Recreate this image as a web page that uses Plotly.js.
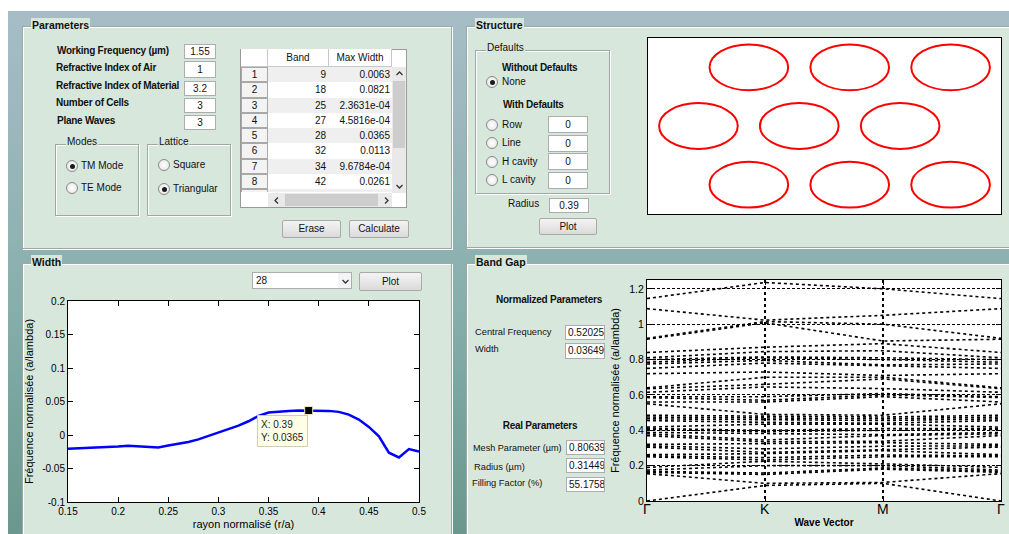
<!DOCTYPE html>
<html><head><meta charset="utf-8">
<script src="https://cdn.plot.ly/plotly-3.0.1.min.js"></script>
<style>
html,body{margin:0;padding:0;}
body{width:1009px;height:534px;overflow:hidden;position:relative;background:#fff;font-family:"Liberation Sans",Arial,sans-serif;}
#desk{position:absolute;left:8px;top:11px;width:1001px;height:523px;
 background:linear-gradient(180deg,#a6bdc5 0px,#9cb7bd 110px,#8fb2b2 230px,#86aeab 300px,#76a29b 420px,#6c978e 523px);}
#gui{position:absolute;left:0;top:0;width:1009px;height:534px;}
.panel{position:absolute;background:#d8e7dc;border:1px solid #9fa8a2;box-shadow:inset 1px 1px 0 #fff,1px 1px 0 #fff;box-sizing:border-box;}
.grp{position:absolute;border:1px solid #9fa8a2;box-shadow:inset 1px 1px 0 #fff,1px 1px 0 #fff;box-sizing:border-box;}
.lbl{position:absolute;white-space:nowrap;color:#111;font-size:10px;line-height:14px;}
.inp{position:absolute;background:#fff;border:1px solid #abadb3;box-sizing:border-box;font-size:10px;text-align:center;overflow:hidden;white-space:nowrap;color:#111;}
.btn{position:absolute;box-sizing:border-box;border:1px solid #a9a9a9;border-radius:2px;background:linear-gradient(#f3f3f3,#e8e8e8 50%,#dadada);font-size:10px;text-align:center;color:#111;}
.radio{position:absolute;width:12px;height:12px;border-radius:50%;box-sizing:border-box;border:1px solid #8a8a8a;background:radial-gradient(#ffffff,#e2e2e2);}
.radio.on::after{content:"";position:absolute;left:2.5px;top:2.5px;width:5px;height:5px;border-radius:50%;background:#1a1a1a;}
.cell{position:absolute;box-sizing:border-box;font-size:10px;line-height:15px;white-space:nowrap;overflow:hidden;color:#111;}
#plot{position:absolute;left:0;top:0;width:1009px;height:534px;z-index:5;pointer-events:none;}
</style></head>
<body>
<div id="desk"></div>
<div id="gui"></div>
<div id="plot"></div>
<script>
// ---------------- chart data ----------------
// Width panel: band 28 gap width vs normalised radius
const widthRadius = [0.15,0.16,0.17,0.18,0.19,0.20,0.21,0.22,0.23,0.24,0.25,0.26,0.27,0.28,0.29,0.30,0.31,0.32,0.33,0.34,0.35,0.36,0.37,0.38,0.39,0.40,0.41,0.42,0.43,0.44,0.45,0.46,0.47,0.48,0.49,0.50];
const widthValues = [-0.0205,-0.0200,-0.0192,-0.0186,-0.0180,-0.0172,-0.0160,-0.0165,-0.0175,-0.0185,-0.0158,-0.0132,-0.0105,-0.0065,-0.0015,0.0045,0.0090,0.0140,0.0205,0.0285,0.0335,0.0352,0.0360,0.0364,0.0365,0.0365,0.0360,0.0345,0.0305,0.0230,0.0120,-0.0020,-0.0265,-0.0335,-0.0210,-0.0245];
const widthXTicks = [0.15,0.2,0.25,0.3,0.35,0.4,0.45,0.5];
const widthXTickText = ["0.15","0.2","0.25","0.3","0.35","0.4","0.45","0.5"];
const widthYTicks = [-0.1,-0.05,0,0.05,0.1,0.15,0.2];
const widthYTickText = ["-0.1","-0.05","0","0.05","0.1","0.15","0.2"];
const tipX = 0.39, tipY = 0.0365;

// Band Gap panel: sorted band frequencies at the high-symmetry points
const kLabels = ["Γ","K","M","Γ"];
const kPositions = [0,1,2,3];
const bandsAtGamma = [0,0.155,0.162,0.168,0.175,0.19,0.25,0.256,0.262,0.305,0.312,0.32,0.37,0.38,0.388,0.405,0.41,0.418,0.455,0.465,0.475,0.485,0.55,0.56,0.585,0.59,0.615,0.635,0.64,0.72,0.75,0.775,0.785,0.8,0.81,0.84,0.915,0.92,1.088,1.145];
const bandsAtK     = [0.088,0.1,0.15,0.158,0.2,0.225,0.232,0.245,0.268,0.275,0.295,0.325,0.335,0.345,0.38,0.392,0.4,0.435,0.445,0.46,0.468,0.48,0.49,0.56,0.57,0.59,0.645,0.66,0.70,0.73,0.78,0.795,0.81,0.815,0.845,0.87,1.008,1.015,1.023,1.236];
const bandsAtM     = [0.1,0.105,0.18,0.187,0.2,0.21,0.25,0.26,0.285,0.29,0.31,0.33,0.338,0.37,0.375,0.4,0.41,0.435,0.44,0.455,0.465,0.475,0.485,0.59,0.6,0.608,0.636,0.69,0.7,0.71,0.765,0.77,0.8,0.81,0.85,0.89,0.905,1.0,1.05,1.2];
const bandYTicks = [0,0.2,0.4,0.6,0.8,1,1.2];
const bandYTickText = ["0","0.2","0.4","0.6","0.8","1","1.2"];

// Structure panel: triangular lattice of holes
const holeX = [1,2,3,0.5,1.5,2.5,1,2,3];
const holeY = [2,2,2,1,1,1,0,0,0];
const holeRadius = 0.39;

// Parameters table
const tableBands = [9,18,25,27,28,32,34,42,46];
const tableMaxWidth = ["0.0063","0.0821","2.3631e-04","4.5816e-04","0.0365","0.0113","9.6784e-04","0.0261","0.0051"];

// ---------------- GUI chrome ----------------
const gui = document.getElementById('gui');
function div(cls,x,y,w,h){const d=document.createElement('div');d.className=cls;Object.assign(d.style,{left:x+'px',top:y+'px',width:w+'px',height:h+'px'});gui.appendChild(d);return d;}
function text(t,x,yc,o){o=o||{};const d=document.createElement('div');d.className='lbl';d.textContent=t;
 d.style.fontSize=(o.size||10)+'px';d.style.top=(yc-7)+'px';if(o.bold){d.style.fontWeight='bold';d.style.letterSpacing=(o.ls!==undefined?o.ls:-0.25)+'px';}
 if(o.center){d.style.left=(x-150)+'px';d.style.width='300px';d.style.textAlign='center';}else d.style.left=x+'px';
 if(o.bg){d.style.background=o.bg;d.style.padding='0 1px';}gui.appendChild(d);return d;}
function input(t,x,y,w,h,left){const d=div('inp',x,y,w,h);d.textContent=t;d.style.lineHeight=(h-2)+'px';if(left){d.style.textAlign='left';d.style.paddingLeft='2px';}return d;}
function button(t,x,y,w,h){const d=div('btn',x,y,w,h);d.textContent=t;d.style.lineHeight=(h-2)+'px';return d;}
function radio(cx,cy,on){const d=div('radio'+(on?' on':''),cx-6,cy-6,12,12);return d;}
function panel(title,x,y,w,h){div('panel',x,y,w,h);text(title,x+9,y-1,{bold:true,size:10.5,ls:0,bg:'#d8e7dc'});}
function group(title,x,y,w,h){div('grp',x,y,w,h);text(title,x+11,y-2,{bg:'#d8e7dc'});}
function chevron(cx,cy,dir,parent){const s='<svg width="9" height="9" style="position:absolute;left:'+(cx-4.5)+'px;top:'+(cy-4.5)+'px"><polyline points="'+
 ({up:'1.5,6 4.5,3 7.5,6',down:'1.5,3 4.5,6 7.5,3',left:'6,1.5 3,4.5 6,7.5',right:'3,1.5 6,4.5 3,7.5'})[dir]+'" fill="none" stroke="#333" stroke-width="1.3"/></svg>';
 (parent||gui).insertAdjacentHTML('beforeend',s);}

// Panels
panel('Parameters',22,26,430,223);
panel('Structure',466,26,560,222);
panel('Width',22,263,430,300);
panel('Band Gap',466,263,560,300);

// Parameters panel
const pLabels=[['Working Frequency (µm)',57,51],['Refractive Index of Air',56,68],['Refractive Index of Material',56,86],['Number of Cells',56,103],['Plane Waves',57,121]];
pLabels.forEach(l=>text(l[0],l[1],l[2],{bold:true,size:10}));
input('1.55',184,44,32,15);input('1',184,61,32,17);input('3.2',184,81,32,15);input('3',184,98,32,15);input('3',184,115,32,15);
group('Modes',55,144,84,72);group('Lattice',147,144,84,72);
radio(72,166,true);text('TM Mode',81,166);radio(72,188,false);text('TE Mode',81,188);
radio(164,165,false);text('Square',173,165);radio(164,189,true);text('Triangular',173,189);
// table
(function(){
 const t=div('cell',240,49,167,159);t.style.background='#fff';t.style.border='1px solid #9a9a9a';
 const hdr=(x,w,s)=>{const c=div('cell',x,49,w,18);c.style.borderRight='1px solid #c8c8c8';c.style.borderBottom='1px solid #c8c8c8';c.style.textAlign='center';c.style.lineHeight='18px';c.textContent=s;c.style.background='#fff';};
 hdr(241,27,'');hdr(268,61,'Band');hdr(329,63,'Max Width');
 const rh=15.25;
 for(let i=0;i<tableBands.length;i++){
  const y=67+i*rh;const bg=(i%2===0)?'#efefef':'#ffffff';
  const rn=div('cell',241,y,27,rh);rn.style.background='#f3f3f3';rn.style.border='1px solid #a8a8a8';rn.style.textAlign='center';rn.style.lineHeight=(rh-2)+'px';rn.textContent=String(i+1);
  const b=div('cell',268,y,61,rh);b.style.background=bg;b.style.textAlign='right';b.style.paddingRight='3px';b.textContent=String(tableBands[i]);
  const m=div('cell',329,y,63,rh);m.style.background=bg;m.style.textAlign='right';m.style.paddingRight='2px';m.textContent=tableMaxWidth[i];
 }
 const hs=div('cell',241,192,165,15);hs.style.background='#fff';
 const hv=div('cell',268,193,124,14);hv.style.background='#e9e9e9';
 const th=div('cell',285,194,93,12);th.style.background='#cdcdcd';
 chevron(276,200,'left');chevron(386,200,'right');
 const vs=div('cell',392,67,14,126);vs.style.background='#e9e9e9';
 const tv=div('cell',393,81,12,67);tv.style.background='#cdcdcd';
 chevron(399,73,'up');chevron(399,186,'down');
})();
button('Erase',282,220,59,18);button('Calculate',349,220,60,18);

// Structure panel
group('Defaults',475,50,135,144);
text('Without Defaults',502,68,{bold:true,size:10});
radio(492,82,true);text('None',502,82);
text('With Defaults',503,105,{bold:true,size:10});
[['Row',125,116],['Line',143,135],['H cavity',162,153],['L cavity',180,172]].forEach(r=>{radio(492,r[1],false);text(r[0],502,r[1]);input('0',548,r[2],40,17);});
text('Radius',508,204);input('0.39',549,198,40,15);
button('Plot',539,218,58,17);

// Width panel
(function(){const d=div('inp',252,272,100,17);d.style.textAlign='left';d.style.paddingLeft='3px';d.style.lineHeight='15px';d.textContent='28';
 const a=div('cell',338,273,13,15);a.style.background='#f4f4f4';chevron(345,281,'down');})();
button('Plot',359,272,63,19);

// Band Gap panel
text('Normalized Parameters',549,300,{bold:true,size:10,center:true});
text('Central Frequency',475,332,{size:9.3});text('Width',475,349,{size:9.3});
input('0.520255',565,325,40,15,true);input('0.036497',565,343,40,16,true);
text('Real Parameters',540,426,{bold:true,size:10,center:true});
text('Mesh Parameter  (µm)',473,448,{size:9.1});text('Radius (µm)',474,467,{size:9.3});text('Filling Factor  (%)',472,483,{size:9.3});
input('0.806395',566,440,39,15,true);input('0.314494',566,458,39,15,true);input('55.1758',566,477,39,15,true);

// ---------------- Plotly figure ----------------
const W=1009,H=534;
const px=x=>x/W, py=y=>1-y/H;
const fontFam='"Liberation Sans", Arial, sans-serif';
const traces=[];
traces.push({x:widthRadius,y:widthValues,mode:'lines',line:{color:'#0000ff',width:2.5},xaxis:'x',yaxis:'y',hoverinfo:'skip'});
traces.push({x:[tipX],y:[tipY],mode:'markers',marker:{symbol:'square',size:8,color:'#000',line:{color:'#f0ecc0',width:1}},xaxis:'x',yaxis:'y',hoverinfo:'skip'});
for(let i=0;i<bandsAtGamma.length;i++){
 traces.push({x:kPositions,y:[bandsAtGamma[i],bandsAtK[i],bandsAtM[i],bandsAtGamma[i]],mode:'lines',
  line:{color:'#000',width:1.6,dash:'dot'},xaxis:'x2',yaxis:'y2',hoverinfo:'skip'});
}
const shapes=holeX.map((cx,i)=>({type:'circle',xref:'x3',yref:'y3',x0:cx-holeRadius,x1:cx+holeRadius,y0:holeY[i]-holeRadius,y1:holeY[i]+holeRadius,line:{color:'#ff0000',width:2}}));
const ax={showline:true,linecolor:'#000',linewidth:1,mirror:'ticks',ticks:'inside',ticklen:5,tickcolor:'#000',zeroline:false,showgrid:false,
 tickfont:{family:fontFam,size:10,color:'#000'}};
const annotations=[{xref:'paper',yref:'paper',x:px(257),y:py(415),xanchor:'left',yanchor:'top',showarrow:false,align:'left',
  text:'X: '+tipX+'<br>Y: '+tipY,font:{family:fontFam,size:10,color:'#222'},bgcolor:'#ffffe6',bordercolor:'#cfcfb0',borderwidth:1,borderpad:3}];
kPositions.forEach((k,i)=>annotations.push({xref:'x2',yref:'paper',x:k,y:py(500),xanchor:'center',yanchor:'top',showarrow:false,
  text:kLabels[i],font:{family:fontFam,size:14,color:'#000'},borderpad:0}));
const layout={
 width:W,height:H,margin:{l:0,r:0,t:0,b:0},autosize:false,showlegend:false,
 paper_bgcolor:'rgba(0,0,0,0)',plot_bgcolor:'#ffffff',font:{family:fontFam,color:'#000'},
 xaxis:Object.assign({},ax,{domain:[px(68),px(419)],range:[0.15,0.5],anchor:'y',tickvals:widthXTicks,ticktext:widthXTickText,
  title:{text:'rayon normalisé (r/a)',font:{size:11,family:fontFam},standoff:4}}),
 yaxis:Object.assign({},ax,{domain:[py(502),py(301)],range:[-0.1,0.2],anchor:'x',tickvals:widthYTicks,ticktext:widthYTickText,
  title:{text:'Fréquence normalisée (a/lambda)',font:{size:11,family:fontFam},standoff:6}}),
 xaxis2:Object.assign({},ax,{domain:[px(647),px(1001)],range:[0,3],anchor:'y2',tickvals:kPositions,showticklabels:false,
  showgrid:true,gridcolor:'#000',gridwidth:2,griddash:'dot',
  title:{text:'<b>Wave Vector</b>',font:{size:10,family:fontFam},standoff:17}}),
 yaxis2:Object.assign({},ax,{domain:[py(501),py(280)],range:[0,1.25],anchor:'x2',tickvals:bandYTicks,ticktext:bandYTickText,
  showgrid:true,gridcolor:'#000',gridwidth:1,griddash:'3px,2px',tickfont:{family:fontFam,size:10.5,color:'#000'},
  title:{text:'Fréquence normalisée (a/lambda)',font:{size:11,family:fontFam},standoff:7}}),
 xaxis3:{domain:[px(648),px(1001)],range:[0,3.5],anchor:'y3',showline:true,mirror:true,linecolor:'#000',ticks:'',showticklabels:false,showgrid:false,zeroline:false},
 yaxis3:{domain:[py(214),py(38)],range:[-0.5,2.5],anchor:'x3',showline:true,mirror:true,linecolor:'#000',ticks:'',showticklabels:false,showgrid:false,zeroline:false},
 shapes:shapes,
 annotations:annotations
};
Plotly.newPlot('plot',traces,layout,{displayModeBar:false,staticPlot:true});
</script>
</body></html>
